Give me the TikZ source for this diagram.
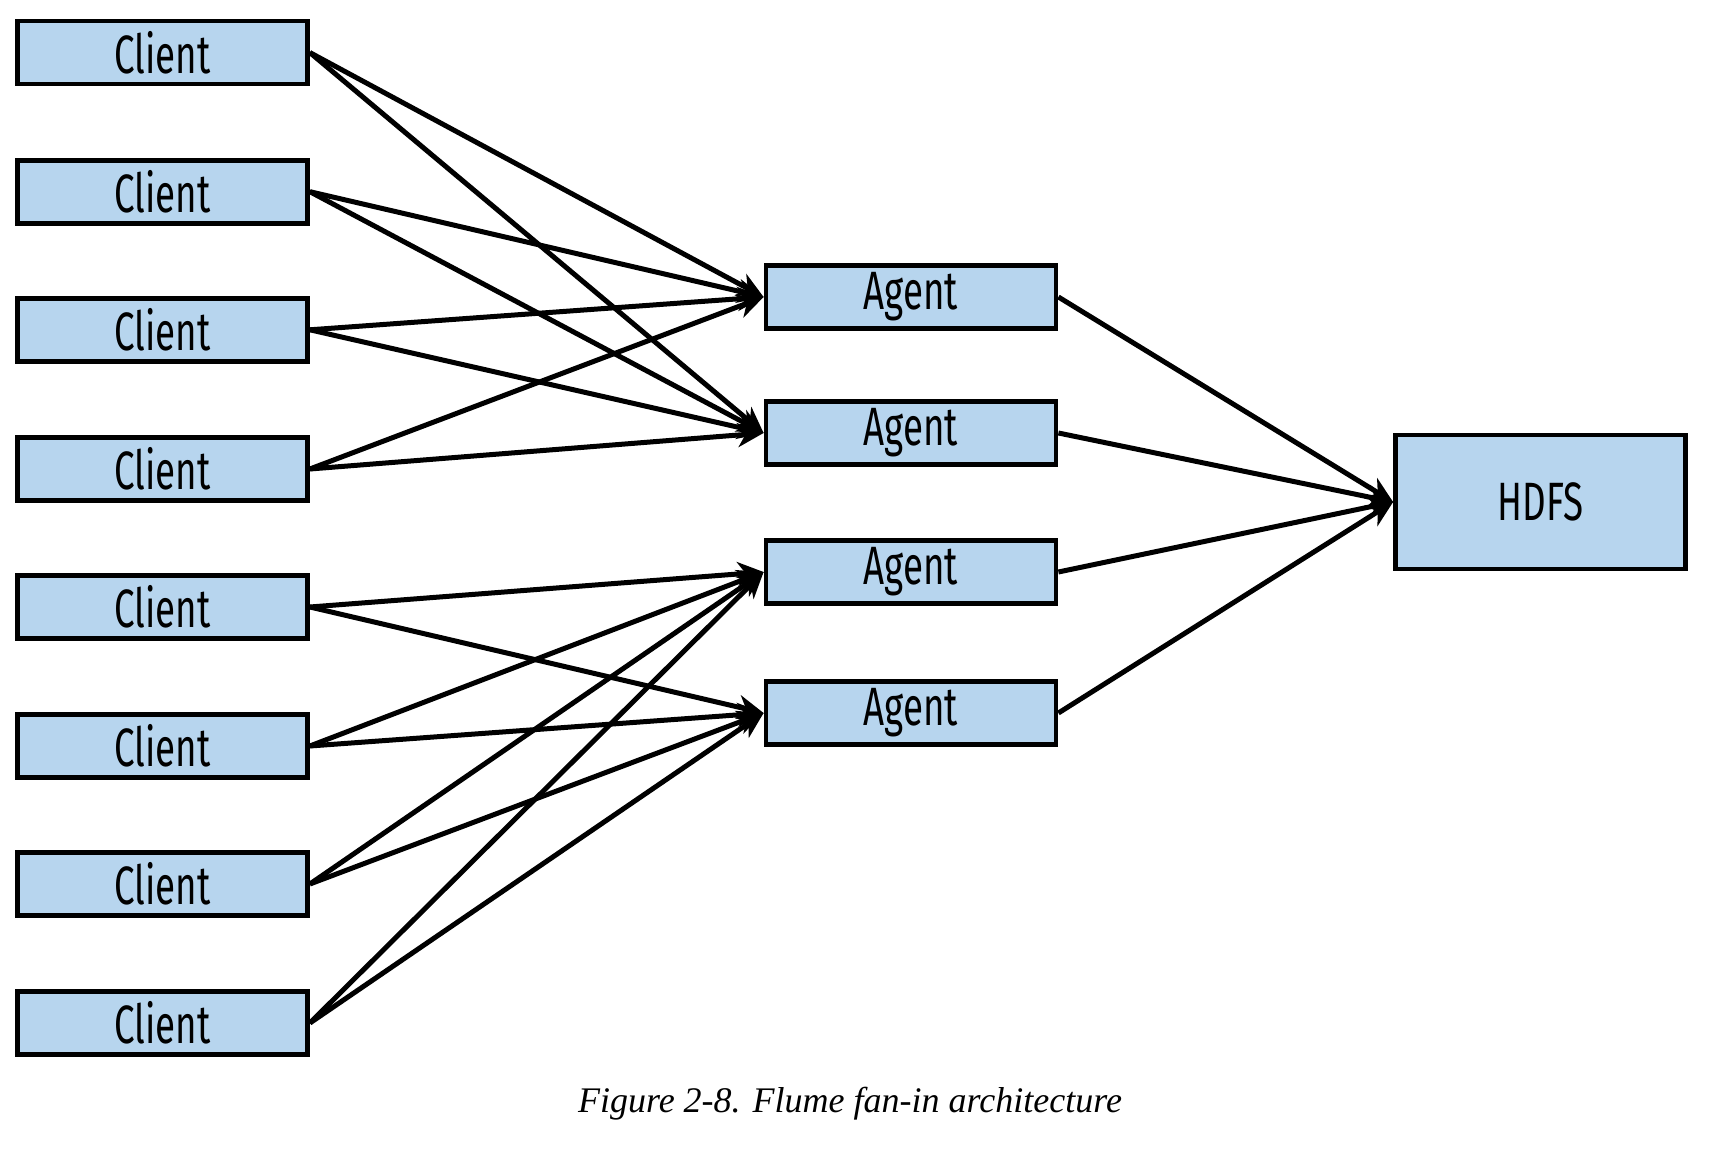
\documentclass[tikz,border=0pt]{standalone}
\usepackage{fontspec}
\newfontfamily\boxfont[FakeStretch=0.68]{Fira Sans}
\setmainfont{Liberation Serif}
\usetikzlibrary{arrows.meta}
\definecolor{boxblue}{RGB}{183,213,238}
\begin{document}
\begin{tikzpicture}[x=0.5pt,y=-0.5pt,
  box/.style={draw=black,fill=boxblue,line width=2.4pt,minimum width=145pt,minimum height=31.5pt,inner sep=0pt,font=\boxfont\fontsize{27}{29}\selectfont},
  bigbox/.style={box,minimum height=67pt},
  conn/.style={line width=2.5pt,-{Stealth[length=13pt,width=12pt,inset=4pt]}}]
\useasboundingbox (0,0) rectangle (1718,1160);
\foreach \i/\y in {1/52.6,2/191.7,3/329.8,4/469,5/607,6/746,7/884,8/1023}
  \node[box] (c\i) at (162.5,\y) {Client};
\foreach \i/\y in {1/297,2/433,3/572,4/713}
  \node[box] (a\i) at (911,\y) {Agent};
\node[bigbox] (h) at (1540.5,502) {HDFS};
\foreach \i in {1,2,3,4}{
  \draw[conn] (c\i.east) -- (a1.west);
  \draw[conn] (c\i.east) -- (a2.west);
}
\foreach \i in {5,6,7,8}{
  \draw[conn] (c\i.east) -- (a3.west);
  \draw[conn] (c\i.east) -- (a4.west);
}
\foreach \i in {1,2,3,4}
  \draw[conn] (a\i.east) -- (h.west);
\node[font=\itshape\fontsize{18}{20}\selectfont] (cap) at (850,1104) {Figure 2-8. Flume fan-in architecture};
\end{tikzpicture}
\end{document}
